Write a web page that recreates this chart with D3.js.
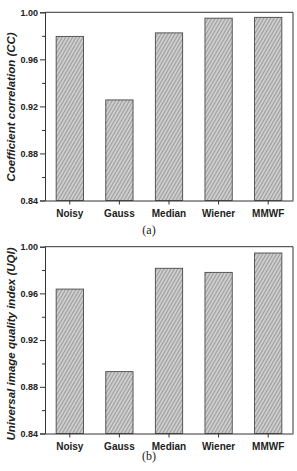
<!DOCTYPE html>
<html>
<head>
<meta charset="utf-8">
<script src="https://cdn.jsdelivr.net/npm/d3@7"></script>
<style>
  body { margin: 0; background: #fff; }
  svg { display: block; }
  .tick text { font-family: "Liberation Sans", Arial, sans-serif; font-weight: bold; }
</style>
</head>
<body>
<script>
// data
const methods = ['Noisy', 'Gauss', 'Median', 'Wiener', 'MMWF'];
const ccValues = [0.9795, 0.9255, 0.9825, 0.9950, 0.9957];
const uqiValues = [0.9637, 0.8930, 0.9815, 0.9780, 0.9946];
const yTicks = [0.84, 0.88, 0.92, 0.96, 1.00];
const yMinor = [0.86, 0.90, 0.94, 0.98];

const W = 297, H = 471;
const svg = d3.select('body').append('svg')
    .attr('width', W)
    .attr('height', H);

// hatch pattern for the bars (lines going up to the right)
const pat = svg.append('defs').append('pattern')
    .attr('id', 'hatch')
    .attr('patternUnits', 'userSpaceOnUse')
    .attr('width', 3)
    .attr('height', 3)
    .attr('patternTransform', 'rotate(30)');
pat.append('rect')
    .attr('width', 3).attr('height', 3)
    .attr('fill', '#cdcdcd');
pat.append('line')
    .attr('x1', 0.5).attr('y1', 0).attr('x2', 0.5).attr('y2', 3)
    .attr('stroke', '#959595')
    .attr('stroke-width', 0.9);

function barPanel(opt) {
    const x = d3.scaleBand()
        .domain(methods)
        .range([opt.left, opt.right])
        .paddingInner(0.45)
        .paddingOuter(0.225);
    const y = d3.scaleLinear()
        .domain([0.84, 1.00])
        .range([opt.bottom, opt.top]);

    const g = svg.append('g');

    g.selectAll('rect.bar')
        .data(opt.values)
        .enter()
        .append('rect')
        .attr('class', 'bar')
        .attr('x', (d, i) => x(methods[i]))
        .attr('width', x.bandwidth())
        .attr('y', d => y(d))
        .attr('height', d => y(0.84) - y(d))
        .attr('fill', 'url(#hatch)')
        .attr('stroke', '#4a4a4a')
        .attr('stroke-width', 0.9);

    // frame (top + right)
    g.append('path')
        .attr('d', 'M' + opt.left + ',' + opt.top + 'H' + opt.right + 'V' + opt.bottom)
        .attr('fill', 'none')
        .attr('stroke', '#333')
        .attr('stroke-width', 1);

    const yAxis = g.append('g')
        .attr('transform', 'translate(' + opt.left + ',0)')
        .call(d3.axisLeft(y).tickValues(yTicks).tickFormat(d3.format('.2f')).tickSize(5).tickPadding(2));
    yAxis.selectAll('text').attr('font-size', 9).attr('fill', '#222');
    yAxis.select('.domain').attr('stroke', '#333');
    yAxis.selectAll('.tick line').attr('stroke', '#333');

    g.append('g')
        .attr('transform', 'translate(' + opt.left + ',0)')
        .call(d3.axisLeft(y).tickValues(yMinor).tickFormat('').tickSize(3))
        .call(s => s.select('.domain').remove())
        .selectAll('.tick line').attr('stroke', '#333');

    const xAxis = g.append('g')
        .attr('transform', 'translate(0,' + opt.bottom + ')')
        .call(d3.axisBottom(x).tickSize(4).tickPadding(5).tickSizeOuter(0));
    xAxis.selectAll('text').attr('font-size', 10).attr('fill', '#222');
    xAxis.select('.domain').attr('stroke', '#333');
    xAxis.selectAll('.tick line').attr('stroke', '#333');

    g.append('text')
        .attr('transform', 'translate(' + opt.titleX + ',' + opt.titleY + ') rotate(-90)')
        .attr('text-anchor', 'middle')
        .attr('font-family', '"Liberation Sans", Arial, sans-serif')
        .attr('font-weight', 'bold')
        .attr('font-style', 'italic')
        .attr('font-size', 11.5)
        .attr('fill', '#222')
        .text(opt.title);

    g.append('text')
        .attr('x', opt.left + (opt.right - opt.left) / 2 - 20)
        .attr('y', opt.captionY)
        .attr('text-anchor', 'middle')
        .attr('font-family', '"Liberation Serif", "Times New Roman", serif')
        .attr('font-size', 12)
        .attr('fill', '#222')
        .text(opt.caption);
}

barPanel({
    values: ccValues, left: 45, right: 293, top: 12.3, bottom: 200.5,
    title: 'Coefficient correlation (CC)', titleX: 15, titleY: 107,
    caption: '(a)', captionY: 234
});

barPanel({
    values: uqiValues, left: 45, right: 293, top: 246.7, bottom: 433.5,
    title: 'Universal image quality index (UQI)', titleX: 15, titleY: 344,
    caption: '(b)', captionY: 460
});
</script>
</body>
</html>
